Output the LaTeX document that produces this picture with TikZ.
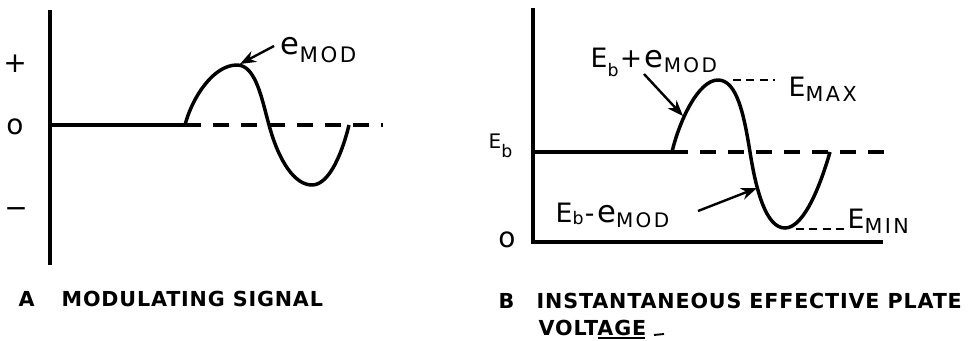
\documentclass[tikz,border=0pt]{standalone}
\usepackage{fontspec}
\setmainfont{DejaVu Sans}
\newfontfamily\capfont[LetterSpace=4]{DejaVu Sans}
\newfontfamily\labfont[LetterSpace=12]{DejaVu Sans}
\usetikzlibrary{arrows.meta}
\begin{document}
\begin{tikzpicture}[x=0.75pt,y=-0.75pt,line width=2.6pt,
  dashline/.style={dash pattern=on 12pt off 9pt,line cap=butt},
  shortdash/.style={line width=1.7pt,dash pattern=on 6pt off 4pt},
  arr/.style={line width=1.8pt,-{Stealth[length=12pt,width=9pt]}},
  lab/.style={inner sep=0pt,font=\labfont},
  sym/.style={inner sep=0pt,font=\labfont\fontsize{21}{21}\selectfont},
  captext/.style={inner sep=0pt,anchor=base west,font=\capfont\bfseries\fontsize{15.5}{17}\selectfont}]
\useasboundingbox (0,0) rectangle (974,340);

% ---------------- Panel A ----------------
\coordinate (aTop) at (50,10);
\coordinate (aBot) at (50,265);
\draw (aTop) -- (aBot);
\coordinate (aZero) at (50,125);
\coordinate (aStart) at (185,125);
\coordinate (aEnd) at (383,125);
\draw (aZero) -- (aStart);
\draw[dashline] (aStart) -- (aEnd);
\draw (aStart) .. controls (192,98) and (213,65) .. (237,65)
  .. controls (256,65) and (262,100) .. (269,125)
  .. controls (279,162) and (295,185) .. (312,185)
  .. controls (330,185) and (343,150) .. (349,125);

\node[sym] (plus) at (15,64) {+};
\node[sym] (zeroA) at (15,127) {o};
\node[sym] (minus) at (16,213) {−};

\node[lab,anchor=base west] (emod) at (279,54)
  {\fontsize{23}{23}\selectfont e\lower6pt\hbox{\fontsize{16}{16}\selectfont MOD}};
\coordinate (emodTail) at (274,46);
\coordinate (emodTip) at (240,64);
\draw[arr] (emodTail) -- (emodTip);

\node[captext] (capA) at (17,306) {A};
\node[captext] (capAtext) at (60,306) {MODULATING SIGNAL};

% ---------------- Panel B ----------------
\coordinate (bTop) at (533,8);
\coordinate (bOrig) at (533,242);
\coordinate (bRight) at (883,242);
\draw (bTop) -- (bOrig) -- (bRight);
\coordinate (bEb) at (533,152);
\coordinate (bStart) at (672,152);
\coordinate (bEnd) at (887,152);
\draw (bEb) -- (bStart);
\draw[dashline] (bStart) -- (bEnd);
\draw (bStart) .. controls (679,122) and (698,80) .. (718,80)
  .. controls (737,80) and (744,115) .. (750,152)
  .. controls (756,190) and (766,228) .. (785,228)
  .. controls (805,228) and (822,180) .. (830,152);

\coordinate (maxA) at (733,80);
\coordinate (maxB) at (775,80);
\draw[shortdash] (maxA) -- (maxB);
\coordinate (minA) at (796,229);
\coordinate (minB) at (845,229);
\draw[shortdash] (minA) -- (minB);

\node[lab,anchor=base west] (emax) at (787,96)
  {\fontsize{20}{20}\selectfont E\lower4pt\hbox{\fontsize{15.5}{15}\selectfont MAX}};
\node[lab,anchor=base west] (emin) at (846,228)
  {\fontsize{20}{20}\selectfont E\lower4pt\hbox{\fontsize{15.5}{15}\selectfont MIN}};

\node[lab,anchor=base west] (ebLab) at (487,148)
  {\fontsize{15}{15}\selectfont E\lower7pt\hbox{\fontsize{13}{13}\selectfont b}};
\node[sym] (zeroB) at (507,240) {o};

\node[lab,anchor=base west] (ebplus) at (589,67)
  {\fontsize{20}{20}\selectfont E\lower7pt\hbox{\fontsize{13}{13}\selectfont b}\hspace{1pt}+\hspace{2pt}\fontsize{23}{23}\selectfont e\lower4pt\hbox{\fontsize{15}{15}\selectfont MOD}};
\coordinate (plusTail) at (644,74);
\coordinate (plusTip) at (683,116);
\draw[arr] (plusTail) -- (plusTip);

\node[lab,anchor=base west] (ebminus) at (554,222)
  {\fontsize{20}{20}\selectfont E\lower2pt\hbox{\fontsize{13}{13}\selectfont b}\hspace{1pt}-\hspace{2pt}\fontsize{23}{23}\selectfont e\lower4pt\hbox{\fontsize{15}{15}\selectfont MOD}};
\coordinate (minusTail) at (698,211);
\coordinate (minusTip) at (757,188);
\draw[arr] (minusTail) -- (minusTip);

\node[captext] (capB) at (497,308) {B};
\node[captext] (capBline1) at (535,308) {INSTANTANEOUS EFFECTIVE PLATE};
\node[captext] (capBline2) at (537,335) {VOLTAGE};
\coordinate (ulA) at (598,338);
\coordinate (ulB) at (645,338);
\draw[line width=1.2pt] (ulA) -- (ulB);
\coordinate (dA) at (654,335);
\coordinate (dB) at (664,334);
\draw[line width=1.4pt] (dA) -- (dB);
\end{tikzpicture}
\end{document}
